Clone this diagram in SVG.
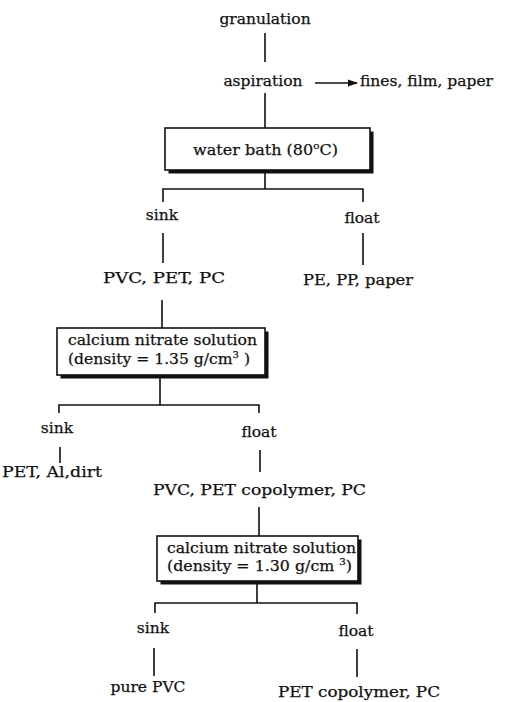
<svg xmlns="http://www.w3.org/2000/svg" width="518" height="702" viewBox="0 0 518 702">
<style>
text{font-family:"DejaVu Serif","Liberation Serif",serif;font-size:15.5px;fill:#111;stroke:#111;stroke-width:0.25}
.m{text-anchor:middle}
.c{stroke:#111;stroke-width:1.6;fill:none}
.box{fill:#fff;stroke:#111;stroke-width:1.6}
.sh{fill:#111}
.sup{font-size:10px}
</style>
<defs>
<marker id="ah" markerWidth="10" markerHeight="8" refX="9" refY="4" orient="auto" markerUnits="userSpaceOnUse">
<path d="M0 0.5L10 4L0 7.5Z" fill="#111"/>
</marker>
</defs>
<rect width="518" height="702" fill="#fff"/>
<g id="connectors">
<path class="c" d="M265 33V62"/>
<path class="c" d="M265 93V128"/>
<path class="c" d="M315 83H357" marker-end="url(#ah)"/>
<path class="c" d="M265 170V189M163 202V189H363V202"/>
<path class="c" d="M163 233V263M363 233V265"/>
<path class="c" d="M162 300V328"/>
<path class="c" d="M160 375V405M59 413V405H259V413"/>
<path class="c" d="M60 447V463M260 450V472"/>
<path class="c" d="M259 507V536"/>
<path class="c" d="M257 581V603M155 613V603H357V614"/>
<path class="c" d="M154 648V676M357 649V677"/>
</g>
<g id="granulation"><text class="m" x="265" y="24">granulation</text></g>
<g id="aspiration"><text class="m" x="263" y="86">aspiration</text></g>
<g id="fines"><text x="360" y="86" textLength="133" lengthAdjust="spacingAndGlyphs">fines, film, paper</text></g>
<g id="waterbath">
<rect class="sh" x="168.5" y="131.5" width="205" height="42"/>
<rect class="box" x="165" y="128" width="205" height="42"/>
<text x="193" y="155" textLength="145" lengthAdjust="spacingAndGlyphs">water bath (80<tspan class="sup" dy="-6">o</tspan><tspan dy="6">C)</tspan></text>
</g>
<g id="sink1"><text class="m" x="162" y="220">sink</text></g>
<g id="float1"><text class="m" x="362" y="223">float</text></g>
<g id="pvcpetpc"><text x="103" y="283" textLength="122" lengthAdjust="spacingAndGlyphs">PVC, PET, PC</text></g>
<g id="peppaper"><text x="303" y="285" textLength="110" lengthAdjust="spacingAndGlyphs">PE, PP, paper</text></g>
<g id="cn135">
<rect class="sh" x="60.5" y="331.5" width="208" height="47"/>
<rect class="box" x="57" y="328" width="208" height="47"/>
<text x="68" y="345" textLength="189" lengthAdjust="spacingAndGlyphs">calcium nitrate solution</text>
<text x="68" y="364" textLength="182" lengthAdjust="spacingAndGlyphs">(density = 1.35 g/cm<tspan class="sup" dy="-6">3</tspan><tspan dy="6"> )</tspan></text>
</g>
<g id="sink2"><text class="m" x="57" y="433">sink</text></g>
<g id="float2"><text class="m" x="259" y="437">float</text></g>
<g id="petaldirt"><text x="2" y="477" textLength="100" lengthAdjust="spacingAndGlyphs">PET, Al,dirt</text></g>
<g id="pvcpetcopc"><text x="153" y="495" textLength="213" lengthAdjust="spacingAndGlyphs">PVC, PET copolymer, PC</text></g>
<g id="cn130">
<rect class="sh" x="160.5" y="539.5" width="201" height="45"/>
<rect class="box" x="157" y="536" width="201" height="45"/>
<text x="167" y="553" textLength="189" lengthAdjust="spacingAndGlyphs">calcium nitrate solution</text>
<text x="167" y="571" textLength="185" lengthAdjust="spacingAndGlyphs">(density = 1.30 g/cm <tspan class="sup" dy="-6">3</tspan><tspan dy="6">)</tspan></text>
</g>
<g id="sink3"><text class="m" x="153" y="633">sink</text></g>
<g id="float3"><text class="m" x="356" y="636">float</text></g>
<g id="purepvc"><text class="m" x="148" y="692">pure PVC</text></g>
<g id="petcopc"><text x="278" y="697" textLength="162" lengthAdjust="spacingAndGlyphs">PET copolymer, PC</text></g>
</svg>
